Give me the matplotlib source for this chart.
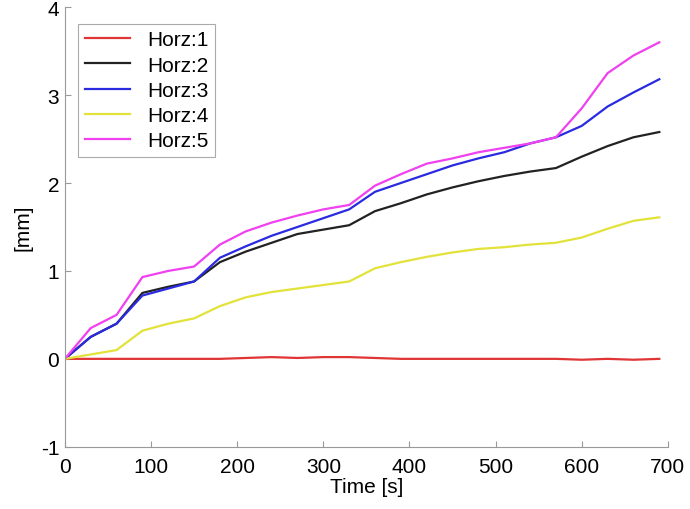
import numpy as np
import matplotlib
matplotlib.use("Agg")
import matplotlib.pyplot as plt

plt.rcParams["font.family"] = ["Liberation Sans", "DejaVu Sans"]
plt.rcParams["axes.unicode_minus"] = False

# time samples [s]
t = [0, 30, 60, 90, 120, 150, 180, 210, 240, 270, 300, 330,
     360, 390, 420, 450, 480, 510, 540, 570, 600, 630, 660, 690]

horz1 = [0, 0, 0, 0, 0, 0, 0, 0.01, 0.02, 0.01, 0.02, 0.02,
         0.01, 0, 0, 0, 0, 0, 0, 0, -0.01, 0, -0.01, 0]
horz2 = [0, 0.25, 0.4, 0.75, 0.82, 0.88, 1.1, 1.22, 1.32, 1.42, 1.47, 1.52,
         1.68, 1.77, 1.87, 1.95, 2.02, 2.08, 2.13, 2.17, 2.3, 2.42, 2.52, 2.58]
horz3 = [0, 0.25, 0.4, 0.72, 0.8, 0.88, 1.15, 1.28, 1.4, 1.5, 1.6, 1.7,
         1.9, 2.0, 2.1, 2.2, 2.28, 2.35, 2.45, 2.52, 2.65, 2.87, 3.03, 3.18]
horz4 = [0, 0.05, 0.1, 0.32, 0.4, 0.46, 0.6, 0.7, 0.76, 0.8, 0.84, 0.88,
         1.03, 1.1, 1.16, 1.21, 1.25, 1.27, 1.3, 1.32, 1.38, 1.48, 1.57, 1.61]
horz5 = [0, 0.35, 0.5, 0.93, 1.0, 1.05, 1.3, 1.45, 1.55, 1.63, 1.7, 1.75,
         1.97, 2.1, 2.22, 2.28, 2.35, 2.4, 2.45, 2.52, 2.85, 3.25, 3.45, 3.6]

series = [("Horz:1", horz1, "#e03535"),
          ("Horz:2", horz2, "#222222"),
          ("Horz:3", horz3, "#2a2ae0"),
          ("Horz:4", horz4, "#e2e23a"),
          ("Horz:5", horz5, "#f040f0")]

fig = plt.figure(figsize=(6.9, 5.1), dpi=100)
ax = fig.add_axes([0.094, 0.122, 0.874, 0.862])

for name, vals, col in series:
    ax.plot(t, vals, color=col, lw=1.6, label=name)

ax.set_xlim(0, 700)
ax.set_ylim(-1, 4)
ax.set_xticks(np.arange(0, 701, 100))
ax.set_yticks(np.arange(-1, 5, 1))
ax.set_xlabel("Time [s]", fontsize=15, labelpad=1)
ax.set_ylabel("[mm]", fontsize=15, labelpad=6)
ax.tick_params(direction="in", length=4, color="#999999", labelsize=15)
ax.tick_params(axis="x", pad=7)
ax.tick_params(axis="y", pad=4)
for s in ["top", "right"]:
    ax.spines[s].set_visible(False)
for s in ["left", "bottom"]:
    ax.spines[s].set_color("#999999")

leg = ax.legend(loc="upper left", fontsize=15, fancybox=False, framealpha=1,
                edgecolor="#aaaaaa", handlelength=2.2, handletextpad=0.8,
                borderpad=0.3, labelspacing=0.3,
                bbox_to_anchor=(0.005, 0.985))
leg.get_frame().set_linewidth(0.8)

fig.savefig("out.png", dpi=100)
